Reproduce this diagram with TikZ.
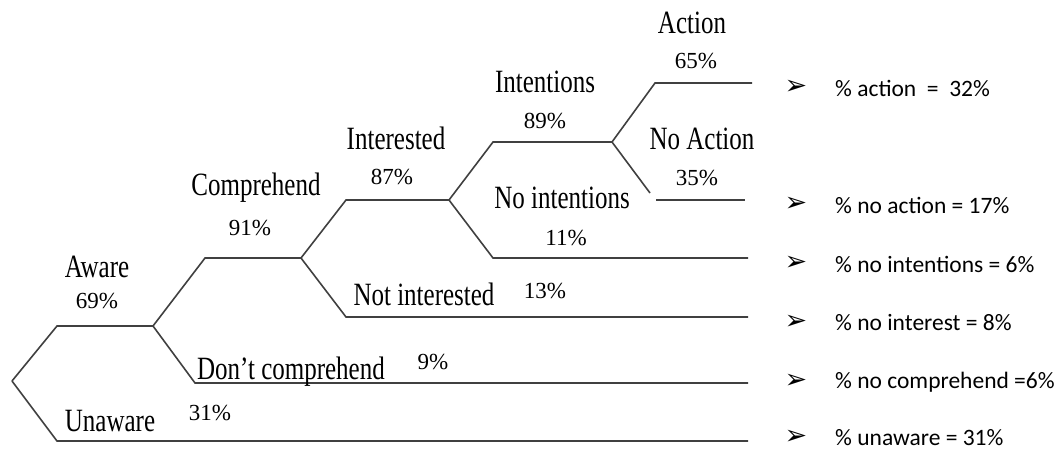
\documentclass[tikz,border=0pt]{standalone}
\usepackage{fontspec}
\setmainfont{Liberation Serif}
\newfontfamily\calfont{Carlito}
\newfontfamily\dvfont{DejaVu Sans}
\begin{document}
\begin{tikzpicture}[x=1pt,y=-1pt,
  br/.style={line width=1.6pt, draw=black!75},
  lab/.style={font=\fontsize{25}{25}\selectfont, yscale=1.3, inner sep=0},
  pct/.style={font=\fontsize{23}{23}\selectfont, inner sep=0},
  res/.style={font=\calfont\fontsize{23.5}{24}\selectfont, anchor=west, inner sep=0},
  bul/.style={font=\dvfont\fontsize{27}{27}\selectfont, inner sep=0, text height=14pt, text depth=0pt, anchor=base}]
\useasboundingbox (0,0) rectangle (1064,451);
% branch points
\coordinate (root) at (12,381);
\coordinate (a1) at (57,326); \coordinate (a2) at (153,326);
\coordinate (u1) at (57,441); \coordinate (u2) at (748,441);
\coordinate (c1) at (205,258); \coordinate (c2) at (301,258);
\coordinate (dc1) at (195,383); \coordinate (dc2) at (748,383);
\coordinate (i1) at (346,200); \coordinate (i2) at (449,200);
\coordinate (ni1) at (346,317); \coordinate (ni2) at (748,317);
\coordinate (t1) at (493,142); \coordinate (t2) at (612,142);
\coordinate (nt1) at (493,258); \coordinate (nt2) at (748,258);
\coordinate (ac1) at (655,83); \coordinate (ac2) at (752,83);
\coordinate (na1) at (650,193); \coordinate (na2) at (656,200); \coordinate (na3) at (745,200);
% branches
\draw[br] (root) -- (a1) -- (a2);
\draw[br] (root) -- (u1) -- (u2);
\draw[br] (a2) -- (c1) -- (c2);
\draw[br] (a2) -- (dc1) -- (dc2);
\draw[br] (c2) -- (i1) -- (i2);
\draw[br] (c2) -- (ni1) -- (ni2);
\draw[br] (i2) -- (t1) -- (t2);
\draw[br] (i2) -- (nt1) -- (nt2);
\draw[br] (t2) -- (ac1) -- (ac2);
\draw[br] (t2) -- (na1);
\draw[br] (na2) -- (na3);
% labels
\node[lab] (lAware) at (97,267) {Aware};
\node[pct] (pAware) at (97,301) {69\%};
\node[lab] (lComp) at (256,188) {Comprehend};
\node[pct] (pComp) at (250,228) {91\%};
\node[lab] (lInt) at (396,138) {Interested};
\node[pct] (pInt) at (392,177) {87\%};
\node[lab] (lIntn) at (545,82) {Intentions};
\node[pct] (pIntn) at (545,121) {89\%};
\node[lab] (lAct) at (692,23) {Action};
\node[pct] (pAct) at (696,61) {65\%};
\node[lab] (lNAct) at (702,139) {No Action};
\node[pct] (pNAct) at (697,178) {35\%};
\node[lab] (lNIntn) at (562,198) {No intentions};
\node[pct] (pNIntn) at (566,238) {11\%};
\node[lab] (lNInt) at (424,294) {Not interested};
\node[pct] (pNInt) at (545,291) {13\%};
\node[lab] (lDC) at (291,372) {Don’t comprehend};
\node[pct] (pDC) at (433,362) {9\%};
\node[lab] (lUn) at (110,421) {Unaware};
\node[pct] (pUn) at (210,413) {31\%};
% results
\foreach \n/\y/\t in {r1/88/{\% action\ \ =\ \ 32\%}, r2/205/{\% no action = 17\%}, r3/264/{\% no intentions = 6\%}, r4/323/{\% no interest = 8\%}, r5/382/{\% no comprehend =6\%}, r6/438/{\% unaware = 31\%}}{
  \node[bul] (b\n) at (796,\y+6) {➢};
  \node[res] (\n) at (835,\y) {\t};
}
\end{tikzpicture}
\end{document}
